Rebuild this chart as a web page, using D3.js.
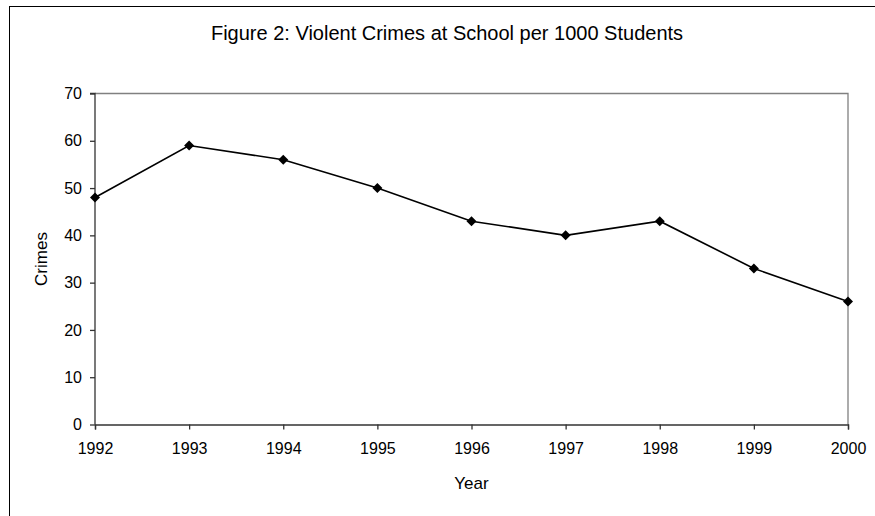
<!DOCTYPE html>
<html><head><meta charset="utf-8">
<script src="https://cdn.jsdelivr.net/npm/d3@7"></script>
<style>body{margin:0;background:#fff}svg{display:block}text{font-family:"Liberation Sans",Arial,sans-serif;fill:#000}</style>
</head><body>
<svg id="c" width="875" height="516"></svg>
<script>
const years = [1992,1993,1994,1995,1996,1997,1998,1999,2000];
const crimes = [48,59,56,50,43,40,43,33,26];
const yTicks = [0,10,20,30,40,50,60,70];
const title = "Figure 2: Violent Crimes at School per 1000 Students";
const xTitle = "Year", yTitle = "Crimes";

const svg = d3.select("#c");
const L=95, R=848, T=93.5, B=424.5;
svg.append("rect").attr("x",9.5).attr("y",6.5).attr("width",880).attr("height",520)
  .attr("fill","#fff").attr("stroke","#000").attr("stroke-width",1);

const x = d3.scalePoint().domain(years).range([L,R]);
const y = d3.scaleLinear().domain([0,70]).range([B,T]);

svg.append("path").attr("d",`M${L},${T}H${R}V${B}`).attr("fill","none").attr("stroke","#808080").attr("stroke-width",1.3);

const ya = svg.append("g").attr("transform",`translate(${L},0)`)
  .call(d3.axisLeft(y).tickValues(yTicks).tickSize(5).tickPadding(8));
const xa = svg.append("g").attr("transform",`translate(0,${B})`)
  .call(d3.axisBottom(x).tickSize(5).tickPadding(13));
[ya,xa].forEach(a=>{
  a.attr("font-size",16).attr("font-family","Liberation Sans, Arial, sans-serif");
  a.selectAll("path,line").attr("stroke","#333").attr("stroke-width",1.3);
  a.selectAll("text").attr("fill","#000");
});
ya.select(".domain").attr("d",`M-5,${T}H0V${B}`);

svg.append("text").attr("x",447).attr("y",40).attr("text-anchor","middle").attr("font-size",20).text(title);
svg.append("text").attr("x",471.5).attr("y",489).attr("text-anchor","middle").attr("font-size",17).text(xTitle);
svg.append("text").attr("transform",`translate(47,259) rotate(-90)`).attr("text-anchor","middle").attr("font-size",17).text(yTitle);

const line = d3.line().x((d,i)=>x(years[i])).y(d=>y(d));
svg.append("path").datum(crimes).attr("d",line).attr("fill","none").attr("stroke","#000").attr("stroke-width",1.6);
svg.selectAll(".m").data(crimes).enter().append("path")
  .attr("transform",(d,i)=>`translate(${x(years[i])},${y(d)})`)
  .attr("d","M0,-5L5,0L0,5L-5,0Z").attr("fill","#000");
</script>
</body></html>
